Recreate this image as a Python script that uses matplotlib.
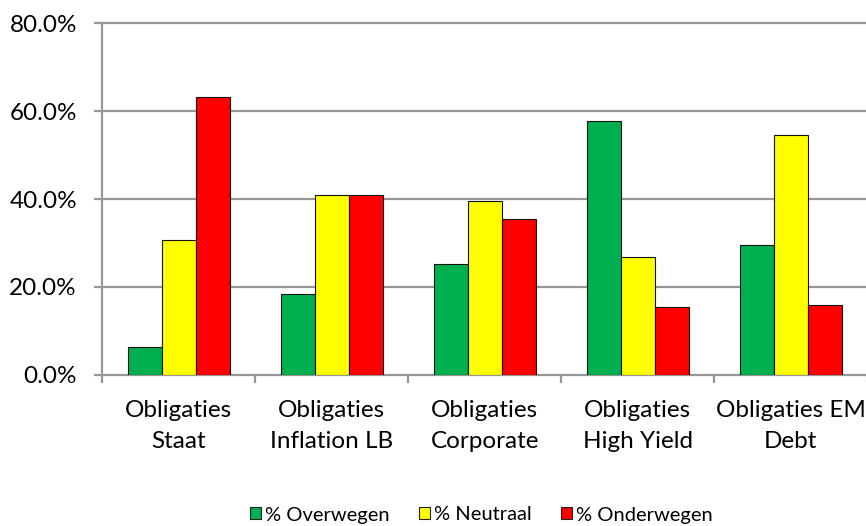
import matplotlib
matplotlib.use("Agg")
import matplotlib.pyplot as plt
import numpy as np
from matplotlib.patches import Patch
from matplotlib.ticker import FuncFormatter, FixedLocator

plt.rcParams['font.family'] = ['Lato', 'DejaVu Sans']

categories = ["Obligaties\nStaat", "Obligaties\nInflation LB", "Obligaties\nCorporate",
              "Obligaties\nHigh Yield", "Obligaties EM\nDebt"]
overwegen = [6.2, 18.3, 25.1, 57.8, 29.6]
neutraal = [30.6, 41.0, 39.6, 26.7, 54.5]
onderwegen = [63.3, 41.0, 35.4, 15.5, 15.9]

series_names = ["% Overwegen", "% Neutraal", "% Onderwegen"]
series_values = [overwegen, neutraal, onderwegen]
colors = ["#00B050", "#FFFF00", "#FF0000"]
y_ticks = [0, 20, 40, 60, 80]

W, H = 866, 526
fig = plt.figure(figsize=(W / 100, H / 100), dpi=100)
ax = fig.add_axes([102 / W, 1 - 374.7 / H, (867.3 - 102) / W, (374.7 - 23.3) / H])

grid_col = "#969696"
x = np.arange(len(categories))
bw = 2 / 9
for i, (vals, col) in enumerate(zip(series_values, colors)):
    ax.bar(x + (i - 1) * bw, vals, width=bw, color=col, edgecolor="#111111",
           linewidth=0.8, zorder=3)

ax.set_xlim(-0.5, len(categories) - 0.5)
ax.set_ylim(0, 80)

# horizontal gridlines
for yv in y_ticks[1:]:
    ax.axhline(yv, color=grid_col, linewidth=1.6, zorder=1, clip_on=False)

for s in ["top", "right"]:
    ax.spines[s].set_visible(False)
for s in ["left", "bottom"]:
    ax.spines[s].set_color(grid_col)
    ax.spines[s].set_linewidth(1.6)

ax.yaxis.set_major_locator(FixedLocator(y_ticks))
ax.yaxis.set_major_formatter(FuncFormatter(lambda v, p: f"{v:.1f}%"))
ax.tick_params(axis="y", direction="out", length=6, width=1.6, color=grid_col,
               labelsize=17.5, pad=12, labelcolor="#000000")

ax.set_xticks(x)
ax.set_xticklabels(categories, linespacing=1.62)
ax.tick_params(axis="x", which="major", length=0, labelsize=17.5, pad=18)
ax.set_xticks(np.arange(-0.5, len(categories)), minor=True)
ax.tick_params(axis="x", which="minor", direction="out", length=6, width=1.6,
               color=grid_col)

handles = [Patch(facecolor=c, edgecolor="#222222", linewidth=0.8) for c in colors]
fig.legend(handles, series_names, loc="center", bbox_to_anchor=(481 / W, 1 - 515 / H),
           ncol=3, frameon=False, fontsize=14.5, handlelength=0.55, handleheight=0.55,
           handletextpad=0.2, columnspacing=1.45)

fig.savefig("out.png", dpi=100)
